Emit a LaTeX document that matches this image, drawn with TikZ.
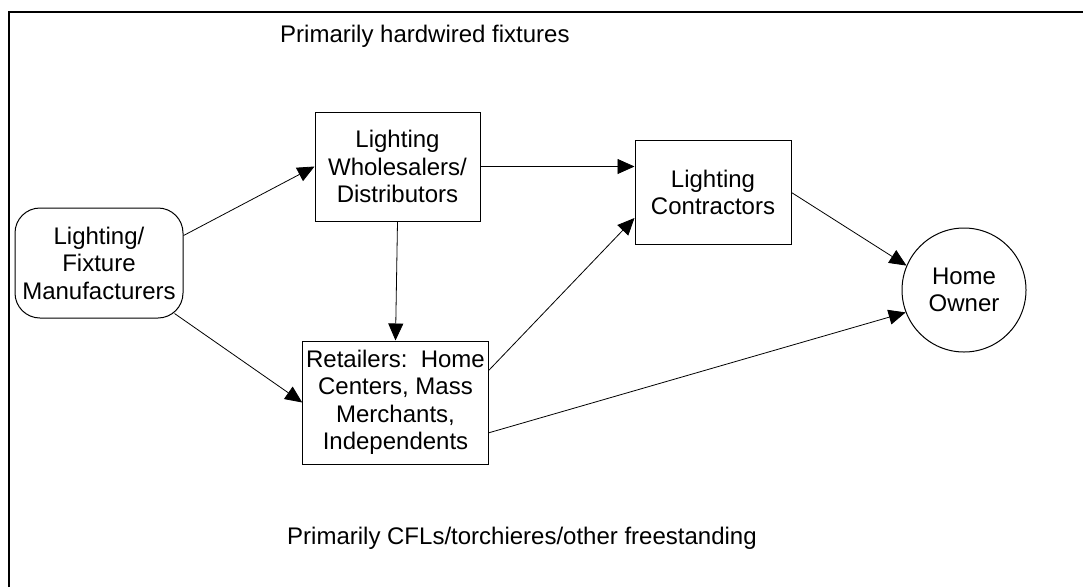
\documentclass[tikz,border=0pt]{standalone}
\usepackage{fontspec}
\setmainfont{Liberation Sans}
\usetikzlibrary{arrows.meta,calc}
\begin{document}
\begin{tikzpicture}[x=1pt,y=-1pt,
  every node/.style={font=\fontsize{24}{27.5}\selectfont, inner sep=0pt, align=center},
  box/.style={draw, line width=1pt, rectangle},
  conn/.style={line width=0.8pt, -{Triangle[length=17pt,width=15pt]}},
]
\useasboundingbox (0,0) rectangle (1083,587);
\draw[line width=2pt] (9,587) -- (9,12) -- (1083,12);
\node[anchor=base west] (t1) at (280,42) {Primarily hardwired fixtures};
\node[anchor=base west] (t2) at (287,544) {Primarily CFLs/torchieres/other freestanding};
\node[box, rounded corners=25pt, minimum width=168pt, minimum height=110pt] (man) at (99,263) {Lighting/\\Fixture\\Manufacturers};
\node[box, minimum width=165pt, minimum height=109pt] (whole) at (397.5,166.5) {Lighting\\Wholesalers/\\Distributors};
\node[box, minimum width=185.5pt, minimum height=123pt] (ret) at (395.5,402.5) {Retailers:\ \ Home\\Centers, Mass\\Merchants,\\Independents};
\node[box, minimum width=156pt, minimum height=104pt] (con) at (713,192.5) {Lighting\\Contractors};
\node[draw, circle, line width=1pt, minimum size=124pt] (ho) at (964,290) {Home\\Owner};
\draw[conn] (man.18) -- (whole.west);
\draw[conn] ($(man.south east)+(-9,-5)$) -- (ret.west);
\draw[conn] (whole.east) -- (whole.east -| con.west);
\draw[conn] (whole.south) -- (ret.north);
\draw[conn] (ret.19) -- (con.198);
\draw[conn] (con.east) -- (ho.157);
\draw[conn] (ret.-18) -- (ho.201);
\end{tikzpicture}
\end{document}
